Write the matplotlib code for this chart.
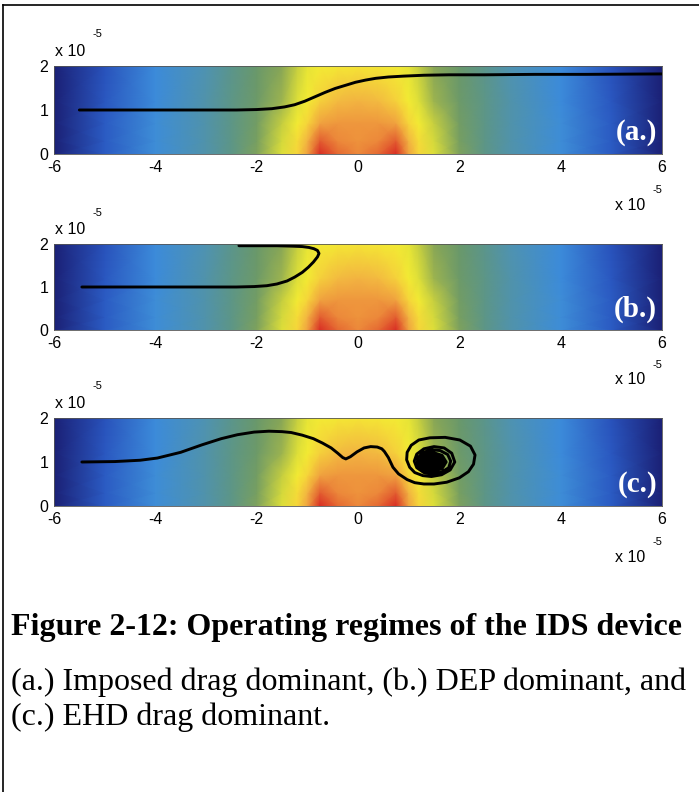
import numpy as np
import matplotlib
matplotlib.use("Agg")
import matplotlib.pyplot as plt
from matplotlib.colors import LinearSegmentedColormap
from matplotlib.lines import Line2D

# field grid (x, y in units of 1e-5), values on a 0..1 colour scale
field_x = [-6, -5, -4, -3, -2.5, -2, -1.5, -1.2, -1, -0.75, -0.4, 0,
           0.4, 0.75, 1, 1.2, 1.5, 2, 2.5, 3, 4, 5, 6]
field_y = [0, 0.3, 0.7, 1.2, 2.0]
field_v = [
    [0.02, 0.19, 0.31, 0.42, 0.48, 0.56, 0.67, 0.77, 0.86, 1.00, 0.94, 0.91,
     0.94, 1.00, 0.86, 0.77, 0.67, 0.56, 0.48, 0.42, 0.31, 0.19, 0.02],
    [0.02, 0.19, 0.31, 0.42, 0.48, 0.55, 0.66, 0.75, 0.83, 0.95, 0.91, 0.89,
     0.91, 0.95, 0.83, 0.75, 0.66, 0.55, 0.48, 0.42, 0.31, 0.19, 0.02],
    [0.02, 0.19, 0.31, 0.42, 0.48, 0.54, 0.64, 0.71, 0.77, 0.86, 0.88, 0.88,
     0.88, 0.86, 0.77, 0.71, 0.64, 0.54, 0.48, 0.42, 0.31, 0.19, 0.02],
    [0.02, 0.18, 0.30, 0.42, 0.48, 0.53, 0.60, 0.67, 0.71, 0.78, 0.82, 0.83,
     0.82, 0.78, 0.71, 0.67, 0.60, 0.53, 0.48, 0.42, 0.30, 0.18, 0.02],
    [0.02, 0.17, 0.30, 0.41, 0.47, 0.52, 0.58, 0.64, 0.68, 0.71, 0.72, 0.73,
     0.72, 0.71, 0.68, 0.64, 0.58, 0.52, 0.47, 0.41, 0.30, 0.17, 0.02],
]

# particle trajectories
a_x = [-5.5, -4, -3, -2.4, -2.0, -1.7, -1.45, -1.25, -1.05, -0.85, -0.65, -0.45,
       -0.25, -0.05, 0.15, 0.35, 0.6, 0.9, 1.3, 1.8, 2.5, 3.5, 4.5, 6]
a_y = [1.0, 1.0, 1.0, 1.0, 1.01, 1.03, 1.07, 1.12, 1.2, 1.3, 1.4, 1.49,
       1.56, 1.63, 1.68, 1.72, 1.75, 1.77, 1.79, 1.80, 1.80, 1.81, 1.81, 1.82]

b_x = [-5.45, -4, -3, -2.4, -2.05, -1.8, -1.6, -1.4, -1.25, -1.1, -0.98, -0.88,
       -0.8, -0.77, -0.8, -0.87, -0.97, -1.1, -1.3, -1.6, -2.0, -2.35]
b_y = [1.0, 1.0, 1.0, 1.0, 1.01, 1.03, 1.07, 1.14, 1.23, 1.34, 1.46, 1.58,
       1.7, 1.78, 1.85, 1.89, 1.92, 1.94, 1.95, 1.96, 1.96, 1.96]

c_x = [-5.45, -4.8, -4.3, -3.96, -3.5, -3.08, -2.7, -2.38, -2.05, -1.76, -1.5,
       -1.32, -1.1, -0.88, -0.7, -0.53, -0.4, -0.3, -0.24, -0.15, -0.02, 0.12,
       0.25, 0.38, 0.47, 0.52, 0.6, 0.69, 0.8, 0.97, 1.12, 1.3, 1.5, 1.75,
       2.0, 2.18, 2.28, 2.31, 2.22, 2.01, 1.72, 1.42, 1.2, 1.05, 0.97, 0.96,
       1.02, 1.12, 1.28, 1.45, 1.65, 1.82, 1.91, 1.85, 1.7, 1.5, 1.3, 1.16,
       1.11, 1.16, 1.3, 1.47, 1.65, 1.79, 1.83, 1.77, 1.62, 1.45, 1.29, 1.18,
       1.17, 1.24,
       1.47, 1.66, 1.74, 1.66, 1.47, 1.28, 1.20, 1.28,
       1.47, 1.63, 1.70, 1.63, 1.47, 1.31, 1.24, 1.31,
       1.47, 1.60, 1.66, 1.60, 1.47, 1.34, 1.28, 1.34,
       1.47, 1.57, 1.62, 1.57, 1.47, 1.37, 1.32, 1.37,
       1.47, 1.55, 1.58, 1.55, 1.47, 1.39, 1.36, 1.39,
       1.47, 1.52, 1.54, 1.52, 1.47, 1.42, 1.40, 1.42,
       1.47, 1.50, 1.51, 1.50, 1.47, 1.44, 1.43, 1.44, 1.47]
c_y = [1.0, 1.01, 1.04, 1.09, 1.22, 1.39, 1.53, 1.62, 1.68, 1.70, 1.69,
       1.67, 1.61, 1.53, 1.43, 1.32, 1.2, 1.1, 1.07, 1.12, 1.23, 1.32,
       1.35, 1.34, 1.3, 1.24, 1.1, 0.88, 0.73, 0.6, 0.53, 0.5, 0.5, 0.54,
       0.64, 0.78, 0.95, 1.16, 1.36, 1.5, 1.56, 1.55, 1.5, 1.38, 1.22, 1.05,
       0.88, 0.76, 0.69, 0.67, 0.71, 0.82, 1.0, 1.2, 1.32, 1.35, 1.3, 1.18,
       1.02, 0.87, 0.76, 0.73, 0.77, 0.87, 1.02, 1.17, 1.26, 1.28, 1.22, 1.1,
       0.95, 0.83,
       0.78, 0.85, 1.0, 1.15, 1.22, 1.15, 1.0, 0.85,
       0.81, 0.87, 1.0, 1.13, 1.19, 1.13, 1.0, 0.87,
       0.84, 0.89, 1.0, 1.11, 1.16, 1.11, 1.0, 0.89,
       0.87, 0.91, 1.0, 1.09, 1.13, 1.09, 1.0, 0.91,
       0.90, 0.93, 1.0, 1.07, 1.10, 1.07, 1.0, 0.93,
       0.93, 0.95, 1.0, 1.05, 1.07, 1.05, 1.0, 0.95,
       0.96, 0.97, 1.0, 1.03, 1.04, 1.03, 1.0, 0.97, 1.0]

panel_tags = ["(a.)", "(b.)", "(c.)"]
xtick_vals = [-6, -4, -2, 0, 2, 4, 6]
xtick_text = ["-6", "-4", "-2", "0", "2", "4", "6"]
ytick_vals = [0, 1, 2]
ytick_text = ["0", "1", "2"]

caption_title = "Figure 2-12: Operating regimes of the IDS device"
caption_lines = ["(a.) Imposed drag dominant, (b.) DEP dominant, and",
                 "(c.) EHD drag dominant."]

# washed-out jet
field_cmap = LinearSegmentedColormap.from_list("scanjet", [
    (0.00, "#191c6a"), (0.10, "#2232a0"), (0.20, "#2c60c8"),
    (0.30, "#3c8cda"), (0.38, "#4a92c0"), (0.45, "#56949a"),
    (0.52, "#68986c"), (0.58, "#88a656"), (0.64, "#c6cf40"),
    (0.70, "#f3ee32"), (0.77, "#f6d63a"), (0.84, "#f2ae42"),
    (0.91, "#ec883a"), (1.00, "#d82c24")])

W, H = 699, 792
fig = plt.figure(figsize=(W / 100, H / 100), dpi=100)
fig.patch.set_facecolor("white")

sans = ["Liberation Sans", "DejaVu Sans"]
serif = ["Liberation Serif", "DejaVu Serif"]

# axes boxes in pixels: left, top, right, bottom
boxes = [(54, 66, 662, 154), (54, 244, 662, 330), (54, 418, 662, 506)]
paths = [(a_x, a_y), (b_x, b_y), (c_x, c_y)]

FX, FY = np.meshgrid(field_x, field_y)
FV = np.array(field_v)

for (l, t, r, b), (px, py), tag in zip(boxes, paths, panel_tags):
    ax = fig.add_axes([l / W, 1 - b / H, (r - l) / W, (b - t) / H])
    ax.pcolormesh(FX, FY, FV, shading="gouraud", cmap=field_cmap,
                  vmin=0, vmax=1, rasterized=True)
    ax.plot(px, py, color="black", lw=2.1, solid_joinstyle="round",
            solid_capstyle="round")
    ax.set_xlim(-6, 6)
    ax.set_ylim(0, 2)
    ax.set_xticks(xtick_vals)
    ax.set_xticklabels(xtick_text, family=sans, fontsize=11.5)
    ax.set_yticks(ytick_vals)
    ax.set_yticklabels(ytick_text, family=sans, fontsize=11.5)
    ax.tick_params(length=0, pad=4)
    for s in ax.spines.values():
        s.set_linewidth(0.6)
        s.set_color("#555555")
    ax.text(0.992, 0.24, tag, transform=ax.transAxes, ha="right",
            va="center", color="white", fontsize=21, fontweight="bold",
            family=serif)
    # exponent labels
    ax.text(0.002, 1.17, "x 10", transform=ax.transAxes, ha="left",
            va="center", fontsize=11.5, family=sans)
    ax.text(0.064, 1.36, "-5", transform=ax.transAxes, ha="left",
            va="center", fontsize=8, family=sans)
    ax.text(0.923, -0.58, "x 10", transform=ax.transAxes, ha="left",
            va="center", fontsize=11.5, family=sans)
    ax.text(0.985, -0.41, "-5", transform=ax.transAxes, ha="left",
            va="center", fontsize=8, family=sans)

# caption
fig.text(11 / W, 1 - 635 / H, caption_title, ha="left", va="baseline",
         fontsize=23, fontweight="bold", family=serif)
fig.text(11 / W, 1 - 690 / H, caption_lines[0], ha="left", va="baseline",
         fontsize=23, family=serif)
fig.text(11 / W, 1 - 725 / H, caption_lines[1], ha="left", va="baseline",
         fontsize=23, family=serif)

# frame lines on the top and left
fig.add_artist(Line2D([3 / W, 1], [1 - 5 / H, 1 - 5 / H], color="black", lw=1.2))
fig.add_artist(Line2D([3 / W, 3 / W], [0, 1 - 5 / H], color="black", lw=1.2))

fig.savefig("out.png", dpi=100)
